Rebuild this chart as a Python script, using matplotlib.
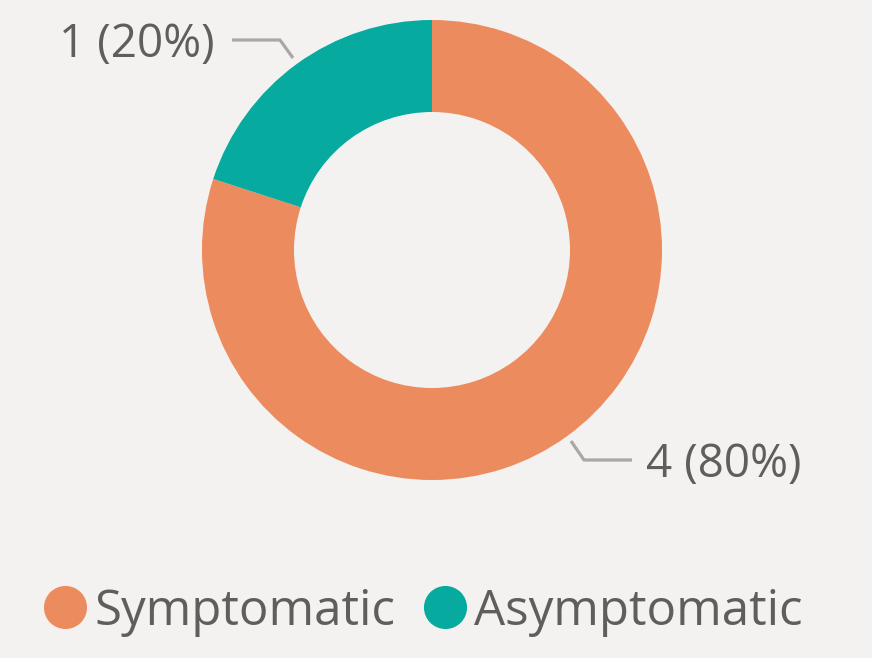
import matplotlib.pyplot as plt
from matplotlib.lines import Line2D

categories = ['Symptomatic', 'Asymptomatic']
counts = [4, 1]
colors = ['#EC8B5E', '#06AA9E']

bg = '#F3F2F1'
txt = '#605E5C'
plt.rcParams['font.family'] = ['Open Sans', 'DejaVu Sans']

W, H = 872, 658
fig = plt.figure(figsize=(W / 100, H / 100), dpi=100, facecolor=bg)

# donut centre (432, 250) px, radius 230 px
cx, cy, r = 432, 250, 230
ax = fig.add_axes([(cx - r) / W, (H - cy - r) / H, 2 * r / W, 2 * r / H])
ax.set_facecolor(bg)
wedges, _ = ax.pie(counts, colors=colors, startangle=90, counterclock=False,
                   radius=1, wedgeprops=dict(width=0.4, linewidth=0))
ax.set_xlim(-1, 1)
ax.set_ylim(-1, 1)
ax.set_aspect('equal')
ax.axis('off')

total = sum(counts)
def px(x, y):
    # pixel -> data coords of the pie axes
    return ((x - cx) / r, (cy - y) / r)

lc = '#A9A8A6'
# 20% label
p = [px(232, 40), px(280, 40), px(293, 58)]
ax.plot([q[0] for q in p], [q[1] for q in p], color=lc, lw=2.3, clip_on=False,
        solid_capstyle='butt')
ax.text(*px(215, 45), f'{counts[1]} ({counts[1] / total:.0%})', ha='right', va='center',
        fontsize=33, color=txt)
# 80% label
p = [px(571, 441), px(584, 460), px(632, 460)]
ax.plot([q[0] for q in p], [q[1] for q in p], color=lc, lw=2.3, clip_on=False,
        solid_capstyle='butt')
ax.text(*px(646, 465), f'{counts[0]} ({counts[0] / total:.0%})', ha='left', va='center',
        fontsize=33, color=txt)

handles = [Line2D([], [], marker='o', ls='', markersize=30, color=c) for c in colors]
leg = fig.legend(handles, categories, loc='center', bbox_to_anchor=(0.482, (H - 612) / H),
                 ncol=2, frameon=False, fontsize=35.5, handletextpad=0.05,
                 columnspacing=0.45, handlelength=1.1, borderpad=0, borderaxespad=0,
                 labelcolor=txt)

fig.savefig('out.png', dpi=100, facecolor=bg)
